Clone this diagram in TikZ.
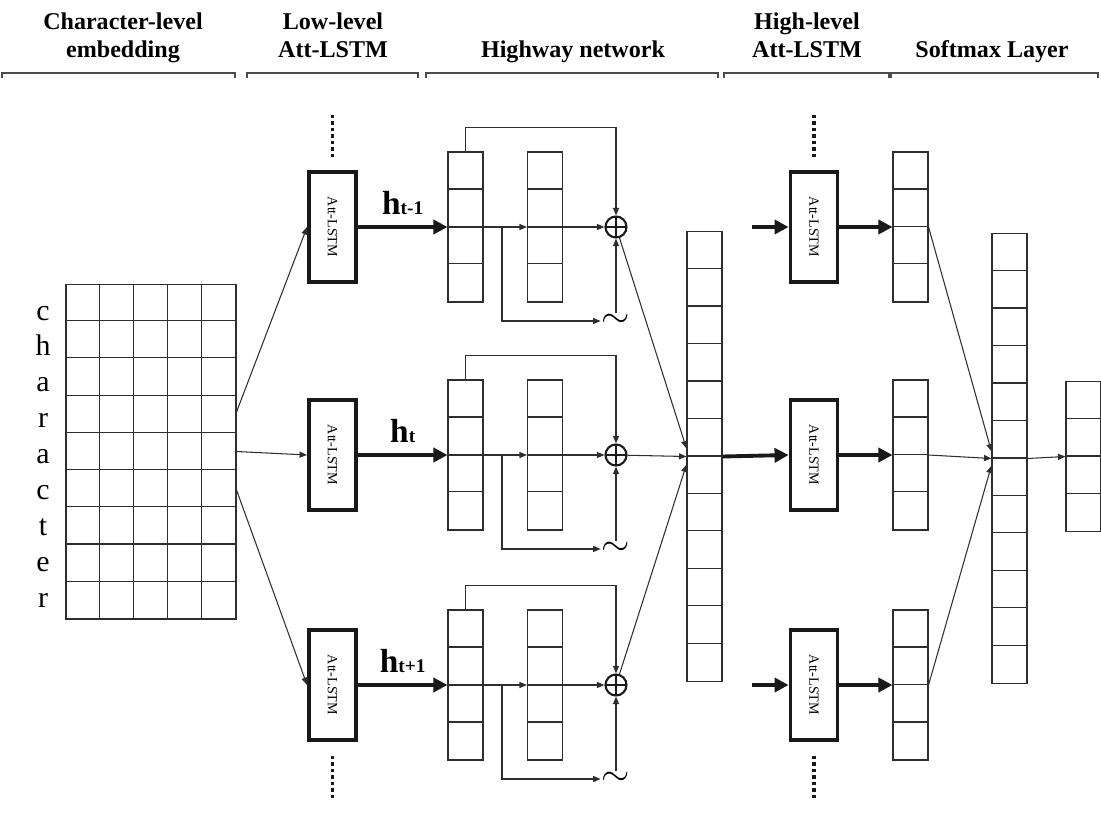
\documentclass[tikz,border=0pt]{standalone}
\usepackage{fontspec}
\setmainfont{Liberation Serif}
\usepackage{graphicx}
\usepackage{tikz}
\usetikzlibrary{arrows.meta, positioning, calc}
\definecolor{linegray}{HTML}{2E2E2E}

% vector of stacked cells: name, x, y, number of cells
\newcommand{\cellvec}[4]{%
  \node[vec, minimum height=#4*0.75cm] (#1) at (#2,#3) {};
  \pgfmathtruncatemacro{\lastcell}{#4-1}
  \foreach \k in {1,...,\lastcell}
    \draw[cellline] ([yshift=-\k*0.75cm]#1.north west) -- ([yshift=-\k*0.75cm]#1.north east);
}

\begin{document}
\begin{tikzpicture}[x=0.02cm, y=-0.02cm,
    vec/.style={draw=linegray, line width=0.6pt, minimum width=0.7cm, inner sep=0pt},
    cellline/.style={draw=linegray, line width=0.6pt},
    lstm/.style={draw=black!90, line width=2.2pt, minimum width=0.94cm, minimum height=2.2cm, inner sep=0pt, font=\fontsize{8}{8}\selectfont},
    head/.style={font=\fontsize{13.7}{16}\selectfont\bfseries, anchor=base, inner sep=0pt},
    letter/.style={font=\fontsize{17}{17}\selectfont, anchor=base, inner sep=0pt},
    hlab/.style={font=\fontsize{19}{19}\selectfont\bfseries, inner sep=0pt, above=0.2cm},
    plus/.style={circle, draw=black!90, line width=1.2pt, minimum size=0.42cm, inner sep=0pt,
      path picture={\draw[line width=1.2pt] (path picture bounding box.north) -- (path picture bounding box.south)
        (path picture bounding box.west) -- (path picture bounding box.east);}},
    tld/.style={font=\fontsize{20}{20}\selectfont, inner sep=0.5pt},
    arr/.style={draw=linegray, line width=0.6pt, -{Triangle[length=0.15cm, width=0.12cm]}},
    thickarr/.style={draw=black!90, line width=2.2pt, -{Triangle[length=0.28cm, width=0.28cm]}},
    dotline/.style={draw=black!90, line width=1.8pt, dash pattern=on 1.8pt off 1.9pt},
    bracket/.style={draw=black!70, line width=0.6pt}
  ]
  \useasboundingbox (0,0) rectangle (1101,814);

  % Header labels and brackets
  \foreach \cx/\cy/\txt [count=\n] in {123/30/Character-level, 123/58/embedding, 333/30/Low-level, 333/58/Att-LSTM,
      573/58/Highway network, 807/30/High-level, 807/58/Att-LSTM, 992/58/Softmax Layer}
    \node[head] (head\n) at (\cx,\cy) {\txt};
  \foreach \xa/\xb in {2/235, 247/418, 426/718, 724/889, 891/1098}
    \draw[bracket] (\xa,78) -- (\xa,73) -- (\xb,73) -- (\xb,78);

  % Character-level embedding grid
  \node[vec, minimum width=3.4cm, minimum height=6.7cm] (emb) at (151,451.5) {};
  \foreach \c in {1,...,4}
    \draw[cellline] ([xshift=\c*0.68cm]emb.north west) -- ([xshift=\c*0.68cm]emb.south west);
  \foreach \r in {1,...,8}
    \draw[cellline] ([yshift=-\r*0.7444cm]emb.north west) -- ([yshift=-\r*0.7444cm]emb.north east);
  \foreach \ch [count=\r] in {c,h,a,r,a,c,t,e,r}
    \node[letter] (ch\r) at ({43},{320+(\r-1)*35.9}) {\ch};

  % Low-level and high-level Att-LSTM
  \foreach \i/\y in {1/227, 2/455, 3/685} {
    \node[lstm] (lo\i) at (332.5,\y) {\rotatebox{-90}{Att-LSTM}};
    \node[lstm] (hi\i) at (814,\y) {\rotatebox{-90}{Att-LSTM}};
  }
  \draw[dotline] ([yshift=0.26cm]lo1.north) -- ++(0,-43);
  \draw[dotline] ([yshift=-0.28cm]lo3.south) -- ++(0,43);
  \draw[dotline] ([yshift=0.26cm]hi1.north) -- ++(0,-43);
  \draw[dotline] ([yshift=-0.28cm]hi3.south) -- ++(0,43);

  % Embedding to Att-LSTM
  \draw[arr] ([yshift=0.79cm]emb.east) -- (lo1.west);
  \draw[arr] (emb.east) -- (lo2.west);
  \draw[arr] ([yshift=-0.77cm]emb.east) -- (lo3.west);

  % Highway network
  \foreach \i/\y/\subtxt in {1/227/t-1, 2/455/t, 3/685/t+1} {
    \cellvec{hwa\i}{465.5}{\y}{4}
    \cellvec{hwb\i}{545}{\y}{4}
    \node[plus] (plus\i) at (616,\y) {};
    \node[tld] (tld\i) at (616,\y+94) {$\sim$};
    \coordinate (br\i) at (502,\y);
    \draw[thickarr] (lo\i.east) -- node[hlab] {h{\fontsize{11}{11}\selectfont\subtxt}} (hwa\i.west);
    \draw[arr] (hwa\i.west) -- (hwb\i.west);
    \draw[arr] (hwb\i.west) -- (plus\i.west);
    \draw[arr] (hwa\i.north) -- ++(0,-24) -| (plus\i.north);
    \draw[arr] (br\i) |- (tld\i.west);
    \draw[arr] (tld\i.north) -- (plus\i.south);
  }

  % Concatenation
  \cellvec{concat}{704.5}{456.5}{12}
  \draw[arr] (plus1) -- ([yshift=0.16cm]concat.west);
  \draw[arr] (plus2) -- (concat.west);
  \draw[arr] (plus3) -- ([yshift=-0.16cm]concat.west);

  % High-level inputs and outputs
  \coordinate (in1) at (752,227);
  \coordinate (in3) at (752,685);
  \draw[thickarr] (in1) -- (hi1.west);
  \draw[thickarr] (concat.east) -- (hi2.west);
  \draw[thickarr] (in3) -- (hi3.west);
  \foreach \i/\y in {1/227, 2/455, 3/685} {
    \cellvec{hv\i}{910.5}{\y}{4}
    \draw[thickarr] (hi\i.east) -- (hv\i.west);
  }

  % Softmax layer
  \cellvec{soft}{1009.5}{458.5}{12}
  \cellvec{out}{1083.5}{456.5}{4}
  \draw[arr] (hv1.east) -- ([yshift=0.14cm]soft.west);
  \draw[arr] (hv2.east) -- (soft.west);
  \draw[arr] (hv3.east) -- ([yshift=-0.14cm]soft.west);
  \draw[arr] (soft.east) -- (out.west);
\end{tikzpicture}
\end{document}
